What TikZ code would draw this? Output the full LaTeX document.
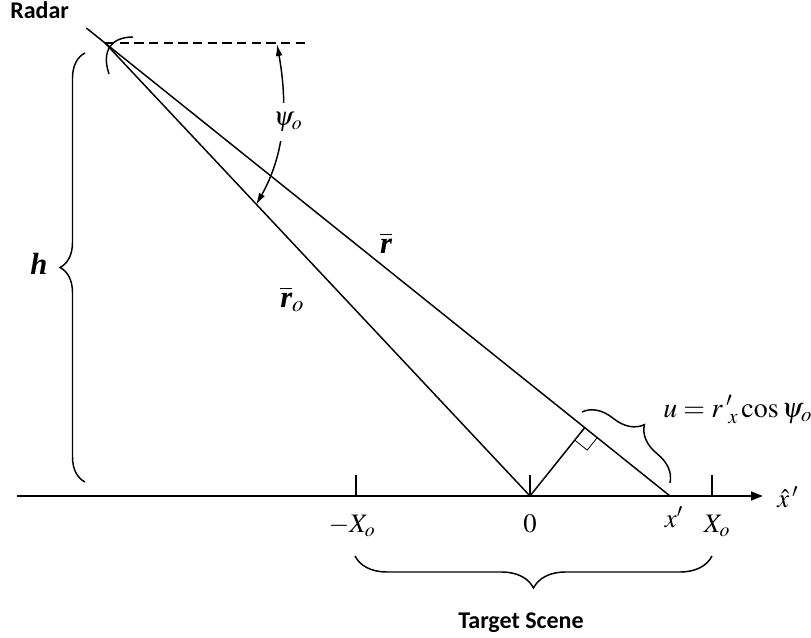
\documentclass[tikz,border=0pt]{standalone}
\usepackage{amsmath}
\usepackage{mathptmx}
\usepackage[no-math]{fontspec}
\setmainfont{Carlito}
\newfontfamily\tmsfont{Liberation Serif}
\usetikzlibrary{arrows.meta,calc,decorations.pathreplacing}
\newcommand{\bitxt}[1]{{\tmsfont\bfseries\itshape #1}}

\begin{document}
\begin{tikzpicture}[x=0.75pt,y=-0.75pt,>={Latex[length=9pt,width=5pt]},
  ln/.style={line width=1.1pt},
  axis/.style={line width=1.8pt,-{Triangle[length=9pt,width=6.5pt]}},
  brc/.style={line width=1.1pt,decorate,decoration={brace,amplitude=#1}},
  mlab/.style={font=\fontsize{20}{24}\selectfont,inner sep=0pt},
  big/.style={font=\fontsize{23}{27}\selectfont,inner sep=0pt},
  caplab/.style={font=\fontsize{18}{22}\selectfont\bfseries,inner sep=0pt}]
\useasboundingbox (0,0) rectangle (811,638);
\coordinate (radar) at (105,43);
\coordinate (o) at (530,496);
\coordinate (xp) at (670,496);
\coordinate (tail) at ($(xp)!1.033!(radar)$);
\coordinate (hz) at (310,43);
\coordinate (ft) at ($(radar)!(o)!(xp)$);
\coordinate (ax0) at (17,496);
\coordinate (ax1) at (763,496);
\coordinate (pa) at (277,44);
\coordinate (pb) at (256,205);
\coordinate (ub1) at (582,412);
\coordinate (ub2) at (670,483);

\node[caplab,anchor=base west] (radarlab) at (10,19) {Radar};
\node[caplab,anchor=base] (scene) at (521,628) {Target Scene};

\draw[ln] (tail) -- (xp);
\draw[ln] (radar) -- (o);
\draw[ln] (o) -- (ft);
\draw[ln,dash pattern=on 7pt off 4pt] (radar) -- (hz);
\draw[ln] (133,37) .. controls (112,37) and (101,50) .. (109,74);
\draw[line width=0.6pt] ($(ft)!12pt!(xp)$) coordinate (sq1)
  -- ($(sq1)+(ft)!12pt!(o)-(ft)$) -- ($(ft)!12pt!(o)$);

\draw[ln,<->] (pa) .. controls (287,100) and (287,150) .. (pb);
\node[mlab,fill=white,inner xsep=1pt,inner ysep=7pt] (psi) at (288,122) {$\psi_o$};

\draw[axis] (ax0) -- (ax1);
\foreach \t in {356,530,712} \draw[ln] (\t,475) -- (\t,496);
\node[mlab,anchor=base] (lxm) at (352,532) {$-X_o$};
\node[mlab,anchor=base] (lzero) at (530,532) {$0$};
\node[mlab,anchor=base] (lxp) at (674,527) {$x'$};
\node[mlab,anchor=base] (lxo) at (717,532) {$X_o$};
\node[mlab,anchor=base west] (xhat) at (777,507) {$\hat{x}\,'$};

\node[big,anchor=base] (rlab) at (386,253) {$\overline{\mbox{\bitxt{r}}}$};
\node[big,anchor=base west] (rolab) at (280,307) {$\overline{\mbox{\bitxt{r}}}_{o}$};
\node[big,anchor=base] (hlab) at (39,275) {\bitxt{h}};
\node[mlab,font=\fontsize{21}{25}\selectfont,anchor=base west] (ulab) at (663,417)
  {$u=r\,'_{\,x}\cos\psi_{o}$};

\draw[brc=18.75pt] (85,482) -- (85,53);
\draw[brc=24pt] (712,556) -- (355,556);
\draw[brc=22pt] (ub1) -- (ub2);
\end{tikzpicture}
\end{document}
